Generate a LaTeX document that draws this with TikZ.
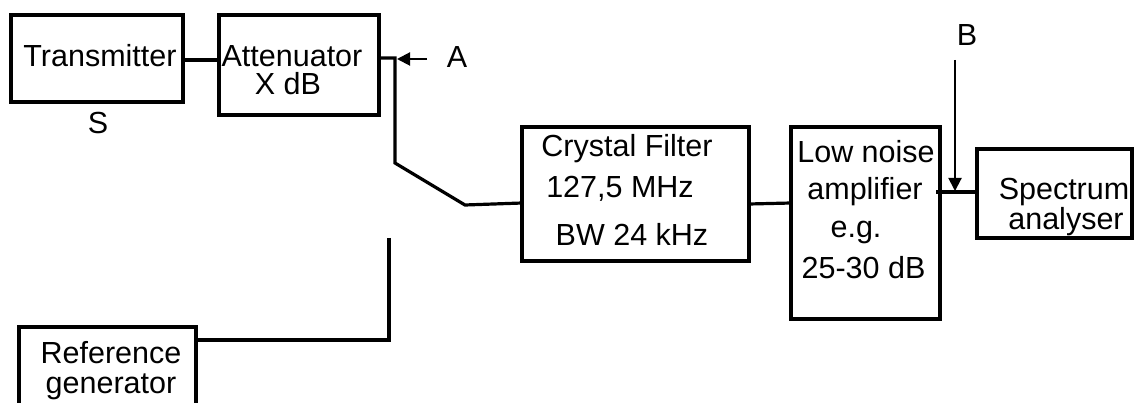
\documentclass[tikz,border=0pt]{standalone}
\usepackage{fontspec}
\setmainfont{Liberation Sans}
\usetikzlibrary{arrows.meta}
\begin{document}
\begin{tikzpicture}[x=1pt,y=-1pt,
  blk/.style={draw,line width=3.2pt,rectangle,inner sep=0pt},
  lbl/.style={anchor=base,inner sep=0pt,font=\fontsize{30.5}{36}\selectfont},
  wire/.style={line width=3.2pt},
  ptr/.style={line width=2pt,-{Triangle[length=13pt,width=13pt]}}]
\useasboundingbox (0,0) rectangle (1134,403);
\clip (0,0) rectangle (1134,403);
% boxes
\node[blk,minimum width=172pt,minimum height=87pt] (tx) at (97,58.5) {};
\node[blk,minimum width=160pt,minimum height=100pt] (att) at (299,65) {};
\node[blk,minimum width=227pt,minimum height=134pt] (cf) at (635.5,194) {};
\node[blk,minimum width=149pt,minimum height=192pt] (lna) at (865.5,223) {};
\node[blk,minimum width=155pt,minimum height=89pt] (sa) at (1054.5,193.5) {};
\node[blk,minimum width=177pt,minimum height=100pt] (ref) at (107.5,377) {};
% texts
\node[lbl] (ttx) at (100,67) {Transmitter};
\node[lbl] (ts) at (98,134) {S};
\node[lbl] (tatt1) at (292,67) {Attenuator};
\node[lbl] (tatt2) at (288,95) {X dB};
\node[lbl] (ta) at (457,68) {A};
\node[lbl] (tcf1) at (627,157) {Crystal Filter};
\node[lbl] (tcf2) at (620,198) {127,5 MHz};
\node[lbl] (tcf3) at (632,245) {BW 24 kHz};
\node[lbl] (tl1) at (866,163) {Low noise};
\node[lbl] (tl2) at (865,200) {amplifier};
\node[lbl] (tl3) at (856,238) {e.g.};
\node[lbl] (tl4) at (863.5,278) {25-30 dB};
\node[lbl] (tb) at (967,46) {B};
\node[lbl] (ts1) at (1064,200) {Spectrum};
\node[lbl] (ts2) at (1066,230) {analyser};
\node[lbl] (tr1) at (111,363) {Reference};
\node[lbl] (tr2) at (111,393) {generator};
% connectors
\coordinate (c1) at (395,58);
\coordinate (c2) at (395,163);
\coordinate (c3) at (465,205);
\coordinate (c4) at (522,203);
\coordinate (r1) at (389,238);
\coordinate (r2) at (389,340);
\coordinate (l1) at (749,204);
\coordinate (l2) at (791,203);
\coordinate (s1) at (936,192);
\coordinate (s2) at (977,192);
\coordinate (atail) at (427,59);
\coordinate (ahead) at (397,59);
\coordinate (btail) at (955,60);
\coordinate (bhead) at (955,191);
\draw[wire] (tx.east |- 0,60) -- (att.west |- 0,60);
\draw[wire] (att.east |- c1) -- (c1) -- (c2) -- (c3) -- (c4);
\draw[wire] (r1) -- (r2) -- (ref.east |- r2);
\draw[wire] (l1) -- (l2);
\draw[wire] (s1) -- (s2);
\draw[ptr] (atail) -- (ahead);
\draw[ptr] (btail) -- (bhead);
\end{tikzpicture}
\end{document}
